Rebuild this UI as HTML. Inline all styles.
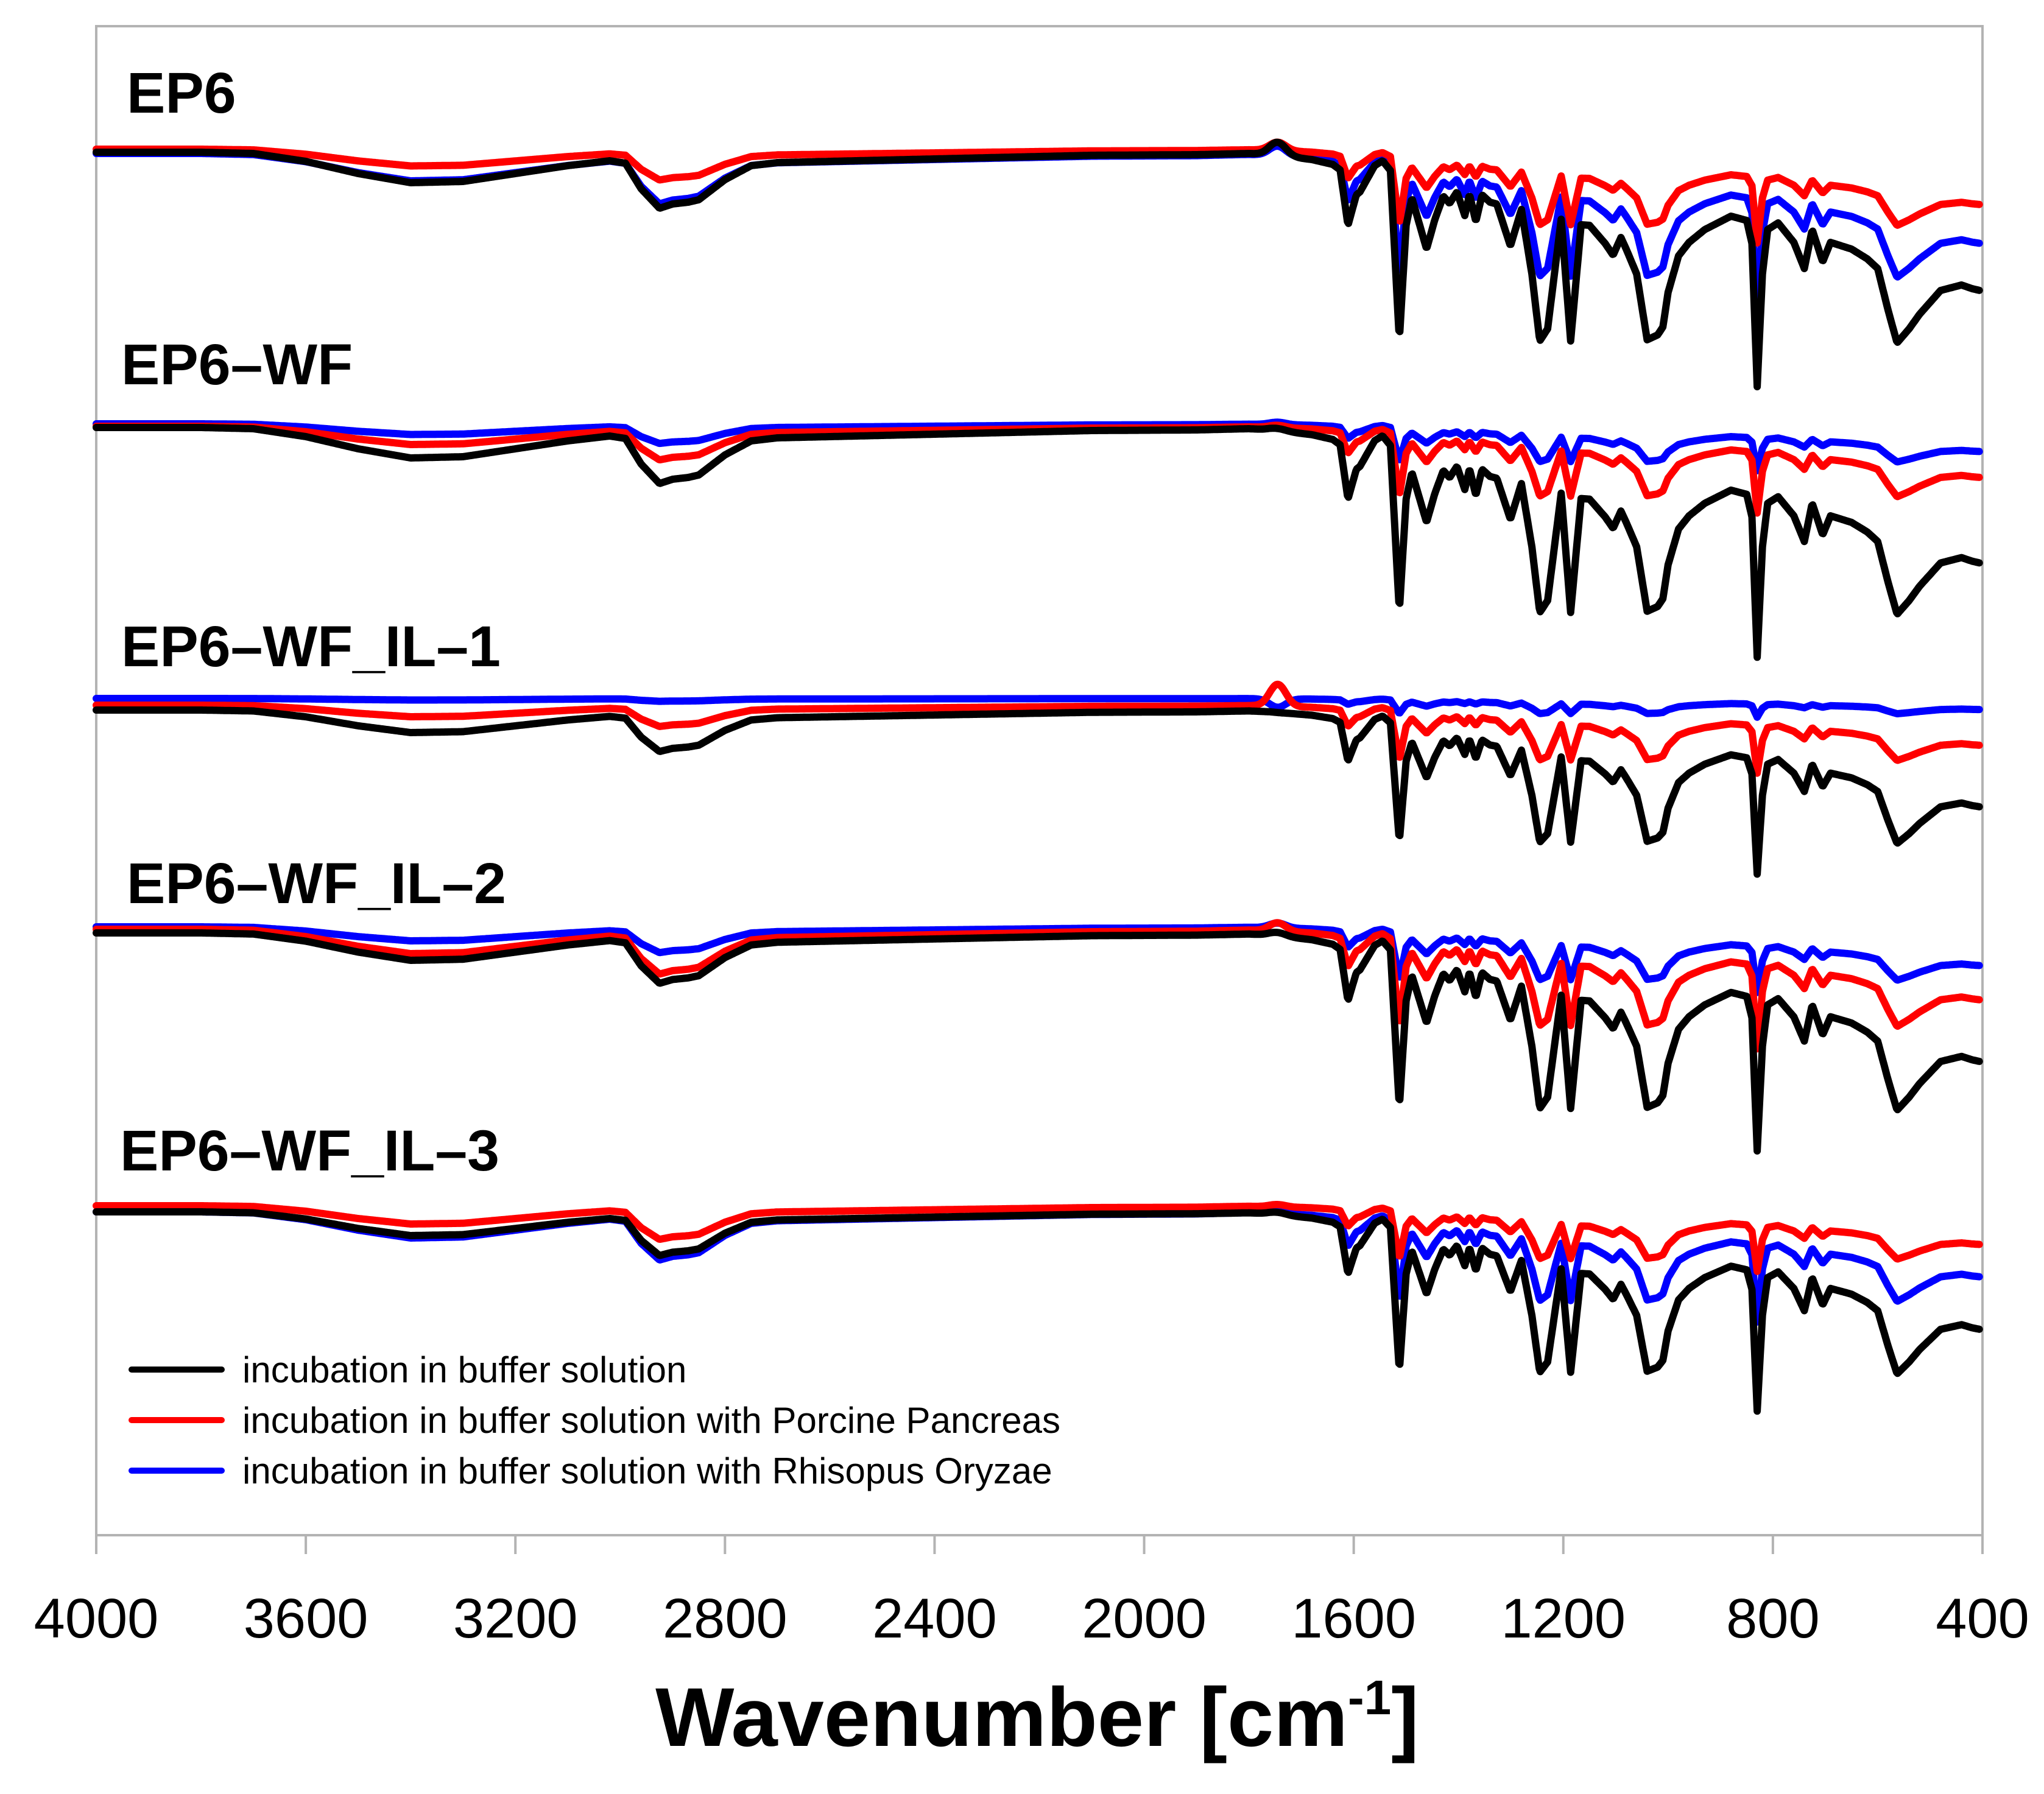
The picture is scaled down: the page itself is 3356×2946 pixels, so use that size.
<!DOCTYPE html>
<html><head><meta charset="utf-8"><style>
html,body{margin:0;padding:0;background:#fff}
svg{display:block}
text{font-family:"Liberation Sans",Arial,sans-serif}
</style></head><body>
<svg id="chart" width="3356" height="2946" viewBox="0 0 3356 2946" xmlns="http://www.w3.org/2000/svg">
<rect x="0" y="0" width="3356" height="2946" fill="#fff"/>
<g id="frame"></g>
<g id="series"></g>
<g id="labels"></g>
<g id="ticks"></g>
<text x="1703" y="2867" text-anchor="middle" font-weight="bold" font-size="137">Wavenumber [cm<tspan font-size="80" dy="-52">-1</tspan><tspan dy="52">]</tspan></text>
<g>
<line x1="216" y1="2249" x2="364" y2="2249" stroke="#000" stroke-width="10" stroke-linecap="round"/>
<text x="398" y="2270" font-size="60">incubation in buffer solution</text>
<line x1="216" y1="2332" x2="364" y2="2332" stroke="#ff0000" stroke-width="10" stroke-linecap="round"/>
<text x="398" y="2353" font-size="60">incubation in buffer solution with Porcine Pancreas</text>
<line x1="216" y1="2415" x2="364" y2="2415" stroke="#0000ff" stroke-width="10" stroke-linecap="round"/>
<text x="398" y="2436" font-size="60">incubation in buffer solution with Rhisopus Oryzae</text>
</g>
</svg>
<script>
// reference spectral profile (absorbance depth in px, black EP6)
const wavenumbers=[4000,3800,3700,3600,3500,3400,3300,3200,3100,3020,2990,2960,2925,2900,2870,2850,2800,2750,2700,2500,2300,2100,1900,1800,1760,1743,1720,1680,1640,1626,1611,1595,1588,1560,1545,1530,1513,1500,1489,1461,1445,1429,1417,1403,1388,1379,1367,1355,1340,1327,1301,1280,1260,1245,1230,1204,1186,1166,1150,1120,1105,1090,1080,1060,1040,1020,1010,1000,980,960,930,880,850,840,830,820,810,790,760,740,725,705,690,650,620,600,580,563,540,520,480,440,420,405];
const profile=[0,0,2,15,35,50,48,35,22,14,18,60,92,85,82,78,45,22,17,13,9,5,4,2,4,6,8,12,20,29,120,70,65,22,14,30,309,120,75,159,110,72,84,65,104,69,114,70,82,85,154,94,200,310,290,110,310,119,120,150,169,140,159,200,308,300,287,230,170,148,127,105,112,150,385,200,127,116,148,191,127,180,148,159,175,191,260,313,290,266,227,218,224,227];
const panelNames=["EP6","EP6\u2013WF","EP6\u2013WF_IL\u20131","EP6\u2013WF_IL\u20132","EP6\u2013WF_IL\u20133"];
const seriesNames=["buffer","porcine","rhisopus"];
// per panel, per series: [black, red, blue]
const baselineY=[[250,245,252],[702,700,696],[1166,1158,1147],[1532,1526,1522],[1990,1980,1990]];
const fingerprintScale=[[1.0,0.40,0.65],[0.98,0.37,0.20],[0.70,0.29,0.08],[0.93,0.51,0.28],[0.85,0.28,0.47]];
const highScale=[[1.0,0.55,0.9],[1.0,0.6,0.35],[0.74,0.38,0.05],[0.9,0.8,0.46],[0.78,0.6,0.86]];
const bump1745=[[-22,-14,-16],[-4,-4,-4],[0,-36,14],[-6,-14,-8],[-4,-4,-6]];
const labelPos=[[208,185],[199,631],[199,1094],[208,1483],[197,1922]];
const xTicks=[4000,3600,3200,2800,2400,2000,1600,1200,800,400];

const colors=["#000000","#ff0000","#0000ff"];
const L=158,R=3255,T=43,B=2521;
const NS="http://www.w3.org/2000/svg";
function xScale(w){return L+(4000-w)*(R-L)/3600;}
function mk(t,a,p){const e=document.createElementNS(NS,t);for(const k in a)e.setAttribute(k,a[k]);p.appendChild(e);return e;}
const frame=document.getElementById('frame');
const fr=mk('rect',{x:L,y:T,width:R-L,height:B-T,fill:'none',stroke:'#b3b3b3','stroke-width':4},frame);


const tg=document.getElementById('ticks');
xTicks.forEach(v=>{
  const x=xScale(v);
  const l=mk('line',{x1:x,y1:B,x2:x,y2:B+31,stroke:'#b3b3b3','stroke-width':4},tg);
  
  
  const t=mk('text',{x:x,y:2689,'text-anchor':'middle','font-size':92},tg);
  
  
  t.textContent=v;
});
function interp(w){
  for(let i=0;i<wavenumbers.length-1;i++){
    const a=wavenumbers[i],b=wavenumbers[i+1];
    if(w<=a&&w>=b){const f=(a-w)/(a-b);return profile[i]+f*(profile[i+1]-profile[i]);}
  }
  return profile[profile.length-1];
}
const sg=document.getElementById('series');
const lg=document.getElementById('labels');
for(let p=0;p<panelNames.length;p++){
  for(let s=2;s>=0;s--){
    let d='';
    for(let w=4000;w>=405;w-=2){
      const blend=Math.min(1,Math.max(0,(w-1700)/200));
      const sc=fingerprintScale[p][s]*(1-blend)+highScale[p][s]*blend;
      const y=baselineY[p][s]+sc*interp(w)+bump1745[p][s]*Math.exp(-Math.pow((w-1745)/22,2));
      d+=(d?'L':'M')+xScale(w).toFixed(1)+' '+y.toFixed(1);
    }
    const path=mk('path',{d:d,fill:'none',stroke:colors[s],'stroke-width':12,'stroke-linejoin':'round','stroke-linecap':'round'},sg);
    
    
  }
  const t=mk('text',{x:labelPos[p][0],y:labelPos[p][1],'font-size':95,'font-weight':'bold'},lg);
  
  
  t.textContent=panelNames[p];
}
</script>
</body></html>
